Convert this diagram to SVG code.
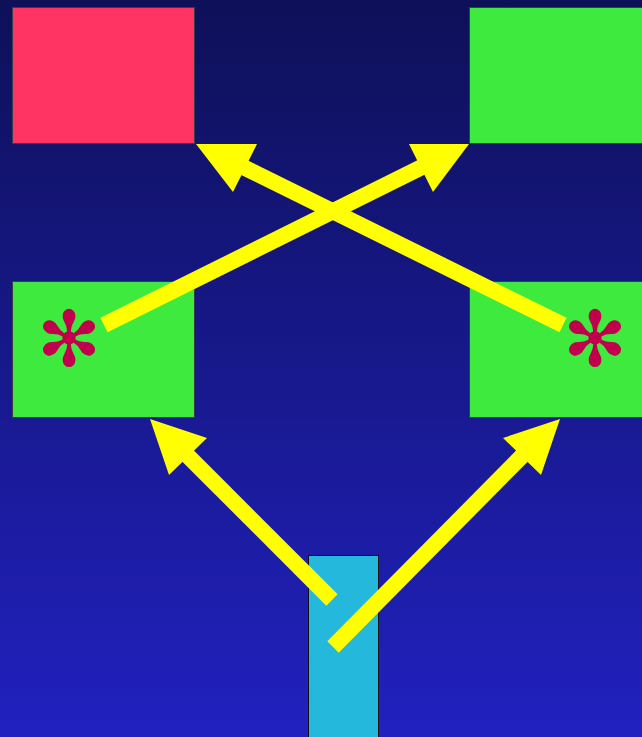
<svg xmlns="http://www.w3.org/2000/svg" width="642" height="737" viewBox="0 0 642 737">
<defs>
<linearGradient id="bg" x1="0" y1="0" x2="0" y2="1">
<stop offset="0" stop-color="#0e1058"/>
<stop offset="1" stop-color="#2121c0"/>
</linearGradient>
</defs>
<style>
.box{stroke:#3a3a4a;stroke-width:1}
.ln{stroke:#ffff00;stroke-width:16;stroke-linecap:butt;fill:none}
.hd{fill:#ffff00}
.ast{font-family:"DejaVu Sans",sans-serif;font-size:77px;fill:#c0004c;text-anchor:middle}
</style>
<rect width="642" height="737" fill="url(#bg)"/>
<g id="red-top-left"><rect class="box" x="12.5" y="7.5" width="182" height="136" fill="#ff3462"/></g>
<g id="green-top-right"><rect class="box" x="469.5" y="7.5" width="180" height="136" fill="#3eea3e"/></g>
<g id="green-mid-left"><rect class="box" x="12.5" y="281.5" width="182" height="136" fill="#3eea3e"/>
<text class="ast" x="69" y="366">✻</text></g>
<g id="green-mid-right"><rect class="box" x="469.5" y="281.5" width="180" height="136" fill="#3eea3e"/>
<text class="ast" x="595" y="366">✻</text></g>
<g id="cyan-bottom"><rect x="308.5" y="555.5" width="70" height="190" fill="#24b8dc" stroke="#111" stroke-width="1"/></g>
<g id="connectors">
<line class="ln" x1="104" y1="325" x2="428" y2="164"/>
<polygon class="hd" points="469,144 409,144 433,192"/>
<line class="ln" x1="563" y1="325" x2="237" y2="164"/>
<polygon class="hd" points="196,144 257,144 233,192"/>
<line class="ln" x1="332" y1="600" x2="183" y2="451"/>
<polygon class="hd" points="150,419 207,438 169,475"/>
<line class="ln" x1="333" y1="647" x2="527" y2="451"/>
<polygon class="hd" points="560,419 503,438 541,475"/>
</g>
</svg>
